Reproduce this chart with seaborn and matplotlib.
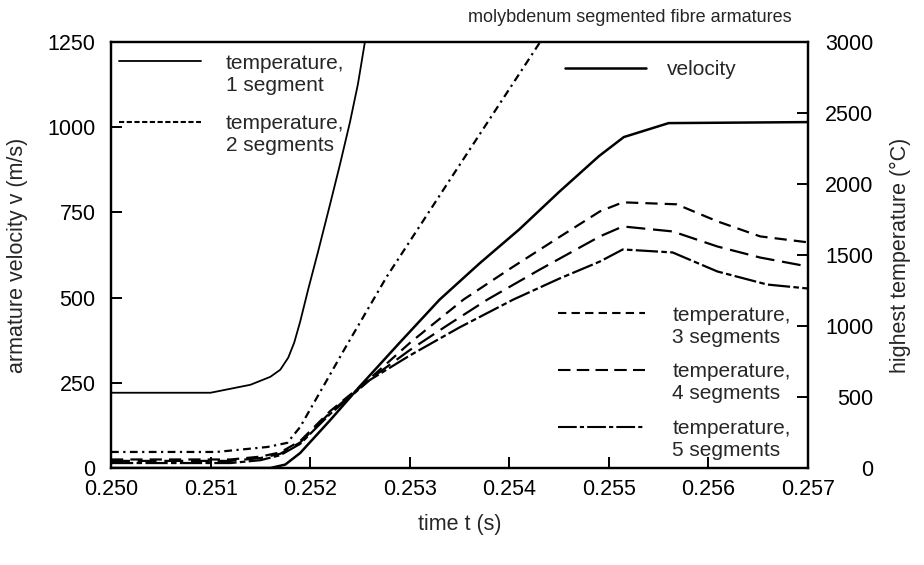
import numpy as np
import pandas as pd
import matplotlib
matplotlib.use("Agg")
import matplotlib.pyplot as plt
from matplotlib.lines import Line2D
from matplotlib.legend_handler import HandlerLine2D
import seaborn as sns

# ---------------- data ----------------
t_vel = [0.2500, 0.2516, 0.25175, 0.2519, 0.2522, 0.2525, 0.2529, 0.2533, 0.2537,
         0.2541, 0.2545, 0.2549, 0.25515, 0.2556, 0.2570]
velocity = [0, 0, 10, 44, 140, 240, 368, 494, 600, 700, 810, 915, 971, 1012, 1015]

t_seg1 = [0.2500, 0.2510, 0.2514, 0.2516, 0.2517, 0.25178, 0.25184, 0.2519, 0.25198,
          0.25208, 0.2522, 0.2523, 0.2524, 0.25248, 0.25255]
temp_seg1 = [530, 530, 586, 642, 692, 777, 883, 1031, 1257, 1525, 1857, 2139, 2436,
             2704, 3000]

t_seg2 = [0.2500, 0.25106, 0.25157, 0.25177, 0.2519, 0.25198, 0.25217, 0.25233,
          0.25277, 0.2534, 0.25431]
temp_seg2 = [113, 113, 148, 177, 289, 388, 621, 819, 1348, 2026, 3000]

t_seg3 = [0.2500, 0.2512, 0.2515, 0.2517, 0.2519, 0.2522, 0.2526, 0.2530, 0.25354,
          0.2540, 0.2545, 0.25491, 0.25514, 0.25568, 0.25609, 0.25652, 0.2570]
temp_seg3 = [60, 60, 80, 110, 190, 400, 630, 880, 1186, 1400, 1625, 1807, 1871,
             1857, 1737, 1631, 1589]

t_seg4 = [0.2500, 0.2512, 0.2515, 0.2517, 0.2519, 0.2522, 0.2526, 0.2530, 0.2534,
          0.25378, 0.2543, 0.25491, 0.25514, 0.25564, 0.25609, 0.25652, 0.2570]
temp_seg4 = [50, 50, 70, 100, 180, 390, 625, 830, 1015, 1186, 1395, 1631, 1701,
             1666, 1560, 1482, 1419]

t_seg5 = [0.2500, 0.2512, 0.2515, 0.2517, 0.2519, 0.2522, 0.2526, 0.2530, 0.2535,
          0.25404, 0.2545, 0.25491, 0.25514, 0.25564, 0.25609, 0.25659, 0.2570]
temp_seg5 = [35, 35, 55, 90, 170, 380, 620, 792, 990, 1186, 1333, 1454, 1539,
             1518, 1384, 1292, 1264]

x_ticks = [0.250, 0.251, 0.252, 0.253, 0.254, 0.255, 0.256, 0.257]
v_ticks = [0, 250, 500, 750, 1000, 1250]
T_ticks = [0, 500, 1000, 1500, 2000, 2500, 3000]

# ---------------- style ----------------
sns.set_theme(style="ticks")
plt.rcParams["font.family"] = ["Liberation Sans", "DejaVu Sans"]
plt.rcParams["axes.linewidth"] = 1.6

FS = 15.5
FSL = 15
fig = plt.figure(figsize=(9.24, 5.65), dpi=100)
ax = fig.add_axes([111 / 924, 1 - 468 / 565, (808 - 111) / 924, (468 - 42) / 565])
ax2 = ax.twinx()

k = "black"
sns.lineplot(x=t_vel, y=velocity, ax=ax, color=k, lw=1.8, linestyle="-")

sns.lineplot(x=t_seg1, y=temp_seg1, ax=ax2, color=k, lw=1.3, linestyle="-")
sns.lineplot(x=t_seg2, y=temp_seg2, ax=ax2, color=k, lw=1.6,
             linestyle=(0, (3.5, 2, 1, 2)))
sns.lineplot(x=t_seg3, y=temp_seg3, ax=ax2, color=k, lw=1.6,
             linestyle=(0, (5.5, 3.2)))
sns.lineplot(x=t_seg4, y=temp_seg4, ax=ax2, color=k, lw=1.6,
             linestyle=(0, (8.5, 3.5)))
sns.lineplot(x=t_seg5, y=temp_seg5, ax=ax2, color=k, lw=1.6,
             linestyle=(0, (10, 1.5, 2.5, 1.5)))

ax.set_xlim(0.250, 0.257)
ax.set_ylim(0, 1250)
ax2.set_ylim(0, 3000)

ax.set_xticks(x_ticks, [f"{v:.3f}" for v in x_ticks])
ax.set_yticks(v_ticks, [str(v) for v in v_ticks])
ax2.set_yticks(T_ticks, [str(v) for v in T_ticks])

ax.tick_params(axis="both", direction="in", length=8, width=1.4, labelsize=FS,
               colors="black")
ax.tick_params(axis="x", pad=8)
ax.tick_params(axis="y", pad=11)
ax2.tick_params(axis="y", direction="in", length=8, width=1.4, labelsize=FS,
                pad=47, colors="black")
plt.setp(ax2.get_yticklabels(), ha="right")

for a in (ax, ax2):
    for s in a.spines.values():
        s.set_visible(True)
        s.set_color("black")
        s.set_linewidth(1.6)

ax.set_xlabel("time t (s)", fontsize=FS, labelpad=10)
ax.set_ylabel("armature velocity v (m/s)", fontsize=FS, labelpad=14)
ax2.set_ylabel("highest temperature (\u00b0C)", fontsize=FS, labelpad=12)

fig.text(630 / 924, 1 - 18 / 565, "molybdenum segmented fibre armatures",
         fontsize=13, ha="center", va="center")


# ---------------- legends ----------------
class UpHandler(HandlerLine2D):
    """Put the legend line level with the first text line."""
    def create_artists(self, legend, orig_handle, xdescent, ydescent, width,
                       height, fontsize, trans):
        arts = super().create_artists(legend, orig_handle, xdescent, ydescent,
                                      width, height, fontsize, trans)
        for a in arts:
            a.set_ydata(np.asarray(a.get_ydata(), dtype=float) + 0.62 * fontsize)
        return arts


def H(ls, lw=1.5):
    return Line2D([], [], color="black", lw=lw, linestyle=ls)


leg_kw = dict(frameon=False, fontsize=FSL, borderaxespad=0, borderpad=0)

h1 = [H("-", 1.3), H((0, (2.5, 1.2)))]
leg1 = ax.legend(h1, ["temperature,\n1 segment", "temperature,\n2 segments"],
                 loc="upper left", bbox_to_anchor=(0.012, 0.973),
                 handlelength=3.9, handletextpad=1.2, labelspacing=0.95,
                 handler_map={h: UpHandler() for h in h1}, **leg_kw)
ax.add_artist(leg1)

leg2 = ax.legend([H("-", 1.8)], ["velocity"], loc="upper left",
                 bbox_to_anchor=(0.651, 0.957), handlelength=3.9,
                 handletextpad=1.0, **leg_kw)
ax.add_artist(leg2)

h3 = [H((0, (4, 2.5))), H((0, (6, 3))), H((0, (9, 1.5, 2, 1.5)))]
leg3 = ax.legend(h3, ["temperature,\n3 segments", "temperature,\n4 segments",
                      "temperature,\n5 segments"],
                 loc="lower left", bbox_to_anchor=(0.641, 0.019),
                 handlelength=4.2, handletextpad=1.3, labelspacing=0.75,
                 handler_map={h: UpHandler() for h in h3}, **leg_kw)

fig.savefig("out.png", dpi=100)
